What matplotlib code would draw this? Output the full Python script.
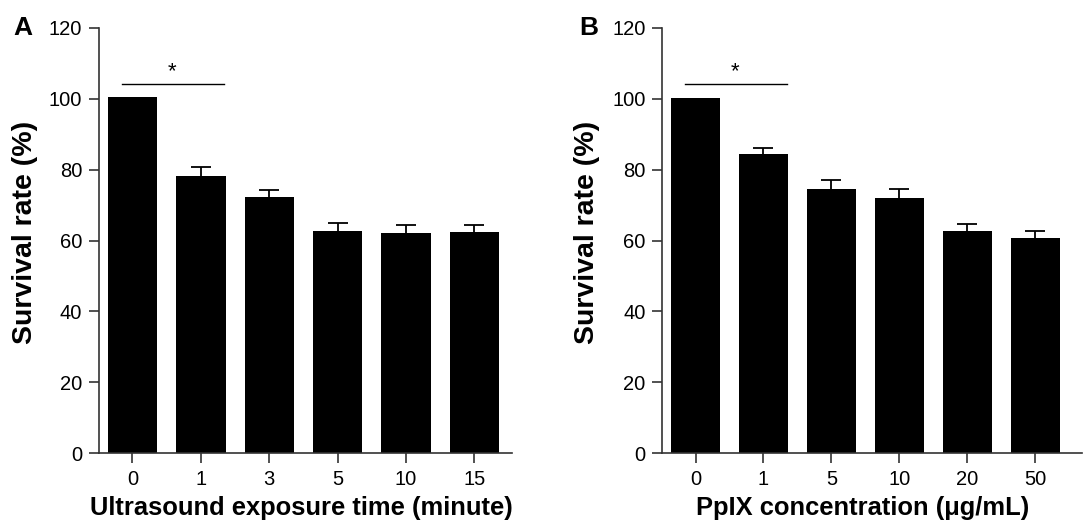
import matplotlib
matplotlib.use('Agg')
import matplotlib.pyplot as plt

plt.rcParams['font.family'] = ['Liberation Sans', 'DejaVu Sans']

# panel A: ultrasound exposure time
time_labels = ['0', '1', '3', '5', '10', '15']
time_rate = [100.4, 78.2, 72.3, 62.7, 62.1, 62.4]
time_err = [0, 2.6, 2.0, 2.3, 2.3, 2.0]

# panel B: PpIX concentration
conc_labels = ['0', '1', '5', '10', '20', '50']
conc_rate = [100.1, 84.3, 74.5, 72.0, 62.7, 60.7]
conc_err = [0, 1.9, 2.6, 2.5, 2.0, 1.9]

yticks = [0, 20, 40, 60, 80, 100, 120]

W, H = 1083, 525
fig = plt.figure(figsize=(W / 100, H / 100), dpi=100)
axA = fig.add_axes([0.0914, 0.1366, 0.3814, 0.8106])
axB = fig.add_axes([0.6115, 0.1366, 0.3875, 0.8106])

def draw(ax, labels, rate, err, xright):
    x = list(range(len(labels)))
    ax.bar(x, rate, width=0.72, color='black', zorder=2)
    # only bars with an error bar; lower half hides behind the bar
    xe = [i for i in x if err[i] > 0]
    ax.errorbar(xe, [rate[i] for i in xe], yerr=[err[i] for i in xe], fmt='none',
                ecolor='black', elinewidth=1.3, capsize=7, capthick=1.3, zorder=1)
    ax.set_xlim(-0.49, xright)
    ax.set_ylim(0, 120)
    ax.set_yticks(yticks)
    ax.set_xticks(x)
    ax.set_xticklabels(labels)
    for s in ['top', 'right']:
        ax.spines[s].set_visible(False)
    for s in ['left', 'bottom']:
        ax.spines[s].set_linewidth(1.2)
        ax.spines[s].set_color('#333333')
    ax.tick_params(axis='both', length=7, width=1.2, color='#333333',
                   labelsize=14.5, pad=5)
    # significance bracket
    ax.plot([-0.15, 1.34], [104.1, 104.1], color='black', lw=1.0, clip_on=False)
    ax.text(0.58, 104.6, '*', ha='center', va='bottom', fontsize=16)

draw(axA, time_labels, time_rate, time_err, 5.55)
draw(axB, conc_labels, conc_rate, conc_err, 5.69)

def ftext(px, py, s, **kw):
    fig.text(px / W, 1 - py / H, s, ha='center', va='center', **kw)

ftext(23, 28, 'A', fontsize=19, fontweight='bold')
ftext(589, 28, 'B', fontsize=19, fontweight='bold')
ftext(25, 232, 'Survival rate (%)', rotation=90, fontsize=20.5, fontweight='bold')
ftext(587, 232, 'Survival rate (%)', rotation=90, fontsize=20.5, fontweight='bold')
ftext(301, 508, 'Ultrasound exposure time (minute)', fontsize=18.4, fontweight='bold')
ftext(863, 508, 'PpIX concentration (\u03bcg/mL)', fontsize=18.4, fontweight='bold')

fig.savefig('out.png', dpi=100)
